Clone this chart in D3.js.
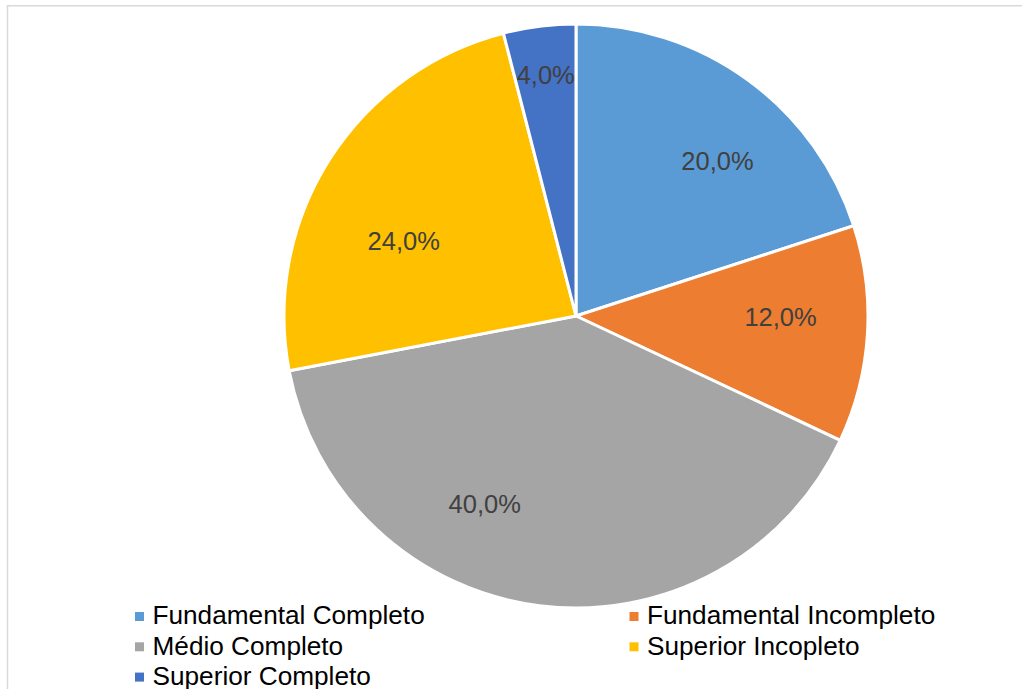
<!DOCTYPE html>
<html>
<head>
<meta charset="utf-8">
<script src="https://cdn.jsdelivr.net/npm/d3@7"></script>
<style>
  html, body { margin: 0; padding: 0; background: #fff; }
  svg { display: block; }
</style>
</head>
<body>
<svg id="chart" width="1022" height="689"></svg>
<script>
// Escolaridade — shares per category (percent)
const categories = ["Fundamental Completo", "Fundamental Incompleto", "Médio Completo", "Superior Incopleto", "Superior Completo"];
const values = [20.0, 12.0, 40.0, 24.0, 4.0];
const colors = ["#5B9BD5", "#ED7D31", "#A5A5A5", "#FFC000", "#4472C4"];

// Fine placement of each value label relative to its slice centroid
const labelNudge = [[18, 15], [-5, -12], [-65, -20], [5, 37], [-4, -33]];

const W = 1022, H = 689;
const cx = 576, cy = 316, R = 292;
const fontFamily = "Arial, 'Liberation Sans', Helvetica, sans-serif";
const labelSize = 25.5;
const legendSize = 26.2;

const svg = d3.select("#chart");

// chart area frame
svg.append("rect")
  .attr("x", 7.5).attr("y", 5.75)
  .attr("width", 1100).attr("height", 800)
  .attr("fill", "none")
  .attr("stroke", "#d9d9d9")
  .attr("stroke-width", 1.5);

const data = categories.map((c, i) => ({ name: c, value: values[i], color: colors[i] }));

const pie = d3.pie().value(d => d.value).sort(null);
const arcs = pie(data);
const arc = d3.arc().innerRadius(0).outerRadius(R);
const labelArc = d3.arc().innerRadius(210).outerRadius(210);

const g = svg.append("g").attr("transform", `translate(${cx},${cy})`);

g.selectAll("path.slice")
  .data(arcs)
  .join("path")
  .attr("class", "slice")
  .attr("d", arc)
  .attr("fill", d => d.data.color)
  .attr("stroke", "#ffffff")
  .attr("stroke-width", 3)
  .attr("stroke-linejoin", "round");

const fmt = v => d3.format(".1f")(v).replace(".", ",") + "%";

g.selectAll("text.val")
  .data(arcs)
  .join("text")
  .attr("class", "val")
  .attr("x", (d, i) => labelArc.centroid(d)[0] + labelNudge[i][0])
  .attr("y", (d, i) => labelArc.centroid(d)[1] + labelNudge[i][1] + labelSize * 0.358)
  .attr("text-anchor", "middle")
  .attr("font-family", fontFamily)
  .attr("font-size", labelSize)
  .attr("fill", "#404040")
  .text(d => fmt(d.data.value));

// legend: two columns, filled row by row
const legendX = [135, 629.5];
const legendY0 = 612, rowStep = 30.3, box = 9;

const leg = svg.append("g")
  .selectAll("g")
  .data(data)
  .join("g")
  .attr("transform", (d, i) => `translate(${legendX[i % 2]},${legendY0 + Math.floor(i / 2) * rowStep})`);

leg.append("rect")
  .attr("width", box).attr("height", box)
  .attr("fill", d => d.color);

leg.append("text")
  .attr("x", 17.5)
  .attr("y", 12.4)
  .attr("font-family", fontFamily)
  .attr("font-size", legendSize)
  .attr("fill", "#000000")
  .text(d => d.name);
</script>
</body>
</html>
